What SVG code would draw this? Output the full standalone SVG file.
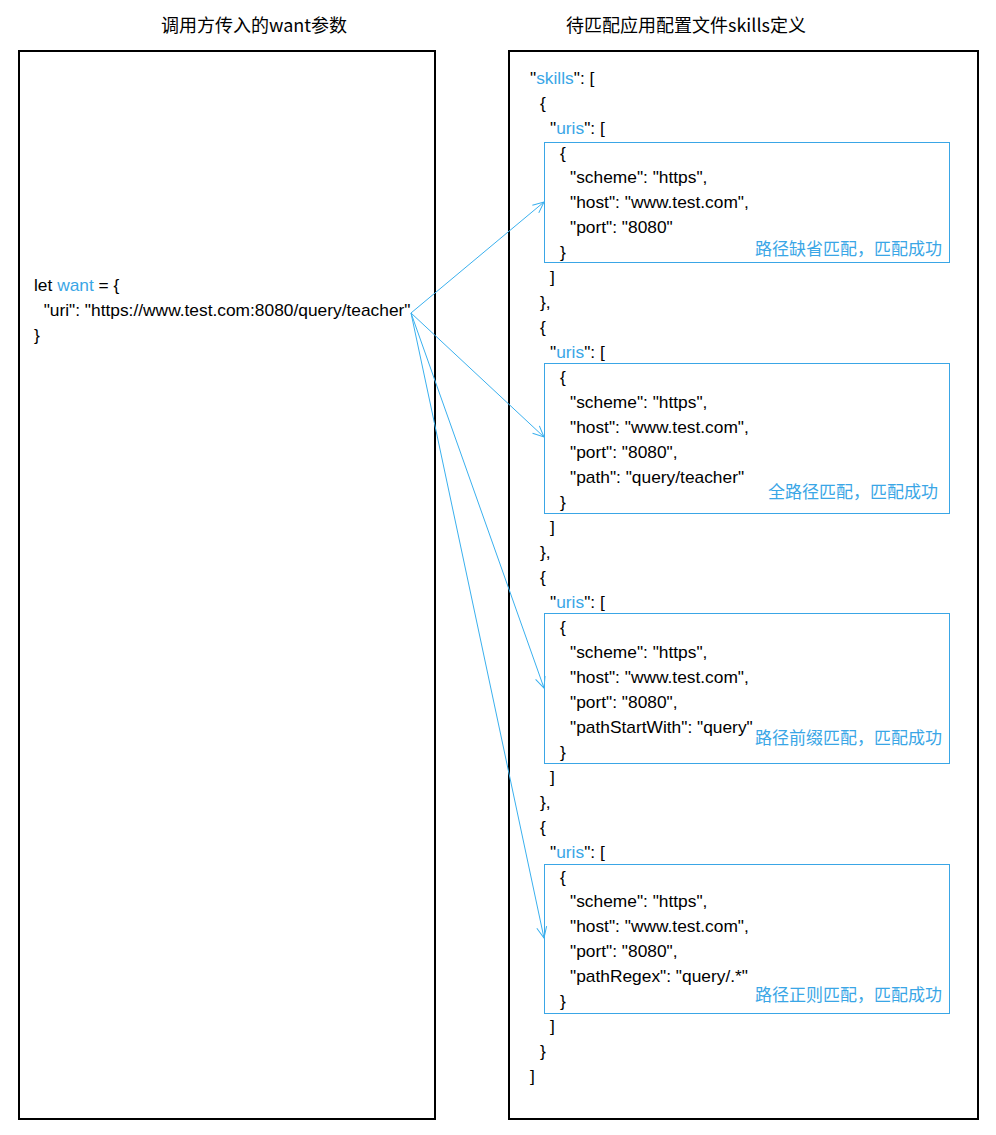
<svg xmlns="http://www.w3.org/2000/svg" width="996" height="1135" viewBox="0 0 996 1135">
<style>
.t{font-family:"Liberation Sans","Noto Sans CJK SC",sans-serif;font-size:17.35px;fill:#000}
.b{fill:#3aa6e6}
.ttl{font-family:"Noto Sans CJK SC","Liberation Sans",sans-serif;font-size:18px;fill:#000;text-anchor:middle}
.lbl{font-family:"Noto Sans CJK SC","Liberation Sans",sans-serif;font-size:17px;fill:#3aa6e6;text-anchor:end}
.panel{fill:#fff;stroke:#000;stroke-width:2}
.ub{fill:none;stroke:#3aa6e6;stroke-width:1}
.c{stroke:#3ab0ee;stroke-width:1;fill:none}
</style>
<defs>
<marker id="arr" markerUnits="userSpaceOnUse" markerWidth="14" markerHeight="14" refX="12" refY="6" orient="auto" viewBox="0 0 14 12">
<path d="M1,1 L12,6 L1,11" fill="none" stroke="#3ab0ee" stroke-width="1"/>
</marker>
</defs>
<rect width="996" height="1135" fill="#fff"/>
<g id="titles">
<text class="ttl" x="254" y="32">调用方传入的want参数</text>
<text class="ttl" x="686" y="32">待匹配应用配置文件skills定义</text>
</g>
<g id="want-panel">
<rect class="panel" x="19" y="51" width="416" height="1068"/>
<text class="t" x="34" y="291">let <tspan class="b">want</tspan> = {</text>
<text class="t" x="34" y="316" xml:space="preserve">  "uri": "https://www.test.com:8080/query/teacher"</text>
<text class="t" x="34" y="341">}</text>
</g>
<g id="skills-panel">
<rect class="panel" x="509" y="51" width="469" height="1068"/>
<text class="t" x="530" y="84">"<tspan class="b">skills</tspan>": [</text>
<text class="t" x="540" y="109">{</text>
<text class="t" x="550" y="134">"<tspan class="b">uris</tspan>": [</text>
<text class="t" x="550" y="283">]</text>
<text class="t" x="540" y="308">},</text>
<text class="t" x="540" y="333">{</text>
<text class="t" x="550" y="358">"<tspan class="b">uris</tspan>": [</text>
<text class="t" x="550" y="533">]</text>
<text class="t" x="540" y="558">},</text>
<text class="t" x="540" y="583">{</text>
<text class="t" x="550" y="608">"<tspan class="b">uris</tspan>": [</text>
<text class="t" x="550" y="783">]</text>
<text class="t" x="540" y="808">},</text>
<text class="t" x="540" y="833">{</text>
<text class="t" x="550" y="858">"<tspan class="b">uris</tspan>": [</text>
<text class="t" x="550" y="1032">]</text>
<text class="t" x="540" y="1057">}</text>
<text class="t" x="530" y="1082">]</text>
</g>
<g id="uri1">
<rect class="ub" x="544.5" y="142.5" width="405" height="120"/>
<text class="t" x="560" y="159">{</text>
<text class="t" x="570" y="183">"scheme": "https",</text>
<text class="t" x="570" y="208">"host": "www.test.com",</text>
<text class="t" x="570" y="233">"port": "8080"</text>
<text class="t" x="560" y="258">}</text>
<text class="lbl" x="942" y="255">路径缺省匹配，匹配成功</text>
</g>
<g id="uri2">
<rect class="ub" x="544.5" y="363.5" width="405" height="150"/>
<text class="t" x="560" y="383">{</text>
<text class="t" x="570" y="408">"scheme": "https",</text>
<text class="t" x="570" y="433">"host": "www.test.com",</text>
<text class="t" x="570" y="458">"port": "8080",</text>
<text class="t" x="570" y="483">"path": "query/teacher"</text>
<text class="t" x="560" y="508">}</text>
<text class="lbl" x="938" y="498">全路径匹配，匹配成功</text>
</g>
<g id="uri3">
<rect class="ub" x="544.5" y="613.5" width="405" height="150"/>
<text class="t" x="560" y="633">{</text>
<text class="t" x="570" y="658">"scheme": "https",</text>
<text class="t" x="570" y="683">"host": "www.test.com",</text>
<text class="t" x="570" y="708">"port": "8080",</text>
<text class="t" x="570" y="733">"pathStartWith": "query"</text>
<text class="t" x="560" y="758">}</text>
<text class="lbl" x="942" y="744">路径前缀匹配，匹配成功</text>
</g>
<g id="uri4">
<rect class="ub" x="544.5" y="864.5" width="405" height="149"/>
<text class="t" x="560" y="883">{</text>
<text class="t" x="570" y="907">"scheme": "https",</text>
<text class="t" x="570" y="932">"host": "www.test.com",</text>
<text class="t" x="570" y="957">"port": "8080",</text>
<text class="t" x="570" y="982">"pathRegex": "query/.*"</text>
<text class="t" x="560" y="1007">}</text>
<text class="lbl" x="942" y="1001">路径正则匹配，匹配成功</text>
</g>
<g id="connectors">
<line class="c" x1="411" y1="313" x2="544" y2="202" marker-end="url(#arr)"/>
<line class="c" x1="411" y1="313" x2="544" y2="437" marker-end="url(#arr)"/>
<line class="c" x1="411" y1="313" x2="544" y2="688" marker-end="url(#arr)"/>
<line class="c" x1="411" y1="313" x2="544" y2="938" marker-end="url(#arr)"/>
</g>
</svg>
